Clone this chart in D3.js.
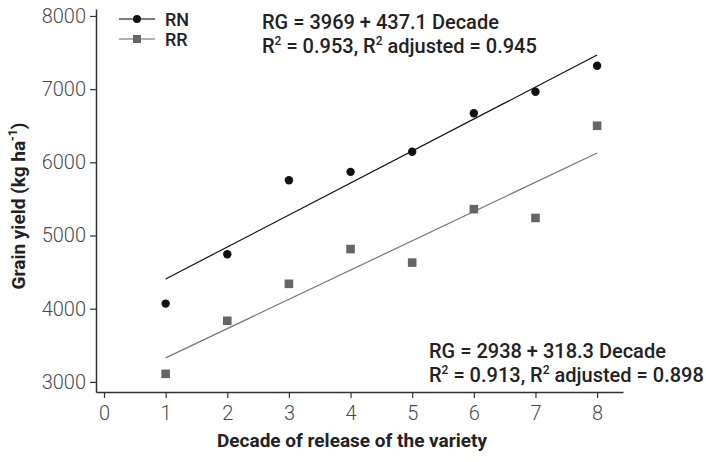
<!DOCTYPE html>
<html><head><meta charset="utf-8">
<script src="https://cdn.jsdelivr.net/npm/d3@7"></script>
<style>body{margin:0;background:#fff}svg{display:block}</style>
</head><body><svg id="c" width="706" height="462"></svg>
<script>
const decades = [1,2,3,4,5,6,7,8];
const rnValues = [4070,4745,5755,5870,6145,6670,6965,7320];
const rrValues = [3110,3835,4340,4815,4630,5360,5240,6500];
const rnFit = [3969, 437.1];
const rrFit = [2928, 400];
const xTicks = [0,1,2,3,4,5,6,7,8];
const yTicks = [3000,4000,5000,6000,7000,8000];
const rnLabel = ["RG = 3969 + 437.1 Decade", "0.953", "0.945"];
const rrLabel = ["RG = 2938 + 318.3 Decade", "0.913", "0.898"];

const svg = d3.select("#c");
const x = d3.scaleLinear().domain([-0.13, 8.42]).range([96, 623]);
const y = d3.scaleLinear().domain([2862, 8095]).range([392, 9]);
const font = "Roboto, 'Noto Sans', sans-serif";

const xa = svg.append("g").attr("transform","translate(0,392)")
  .call(d3.axisBottom(x).tickValues(xTicks).tickFormat(d3.format("d")).tickSize(6).tickPadding(6).tickSizeOuter(0));
const ya = svg.append("g").attr("transform","translate(96,0)")
  .call(d3.axisLeft(y).tickValues(yTicks).tickFormat(d3.format("d")).tickSize(6).tickPadding(4).tickSizeOuter(0));
[xa, ya].forEach(a => {
  a.attr("font-size",null).attr("font-family",null);
  a.select(".domain").attr("stroke","#333").attr("stroke-width",1.5);
  a.selectAll(".tick line").attr("stroke","#333").attr("stroke-width",1.2);
  a.selectAll(".tick text").attr("font-family",font).attr("font-weight",300)
    .style("font-size","20px").attr("fill","#4a4a4a");
});
xa.selectAll(".tick text").attr("dy","0.8em");

svg.append("text").attr("x",352).attr("y",447).attr("text-anchor","middle")
  .attr("font-family",font).attr("font-weight",700).style("font-size","19px").attr("fill","#222")
  .text("Decade of release of the variety");
const yt = svg.append("text").attr("transform","translate(25,206) rotate(-90)")
  .attr("text-anchor","middle").attr("font-family",font).attr("font-weight",700)
  .style("font-size","19px").attr("fill","#222");
yt.append("tspan").text("Grain yield (kg ha");
yt.append("tspan").style("font-size","12px").attr("dy",-8).text("-1");
yt.append("tspan").attr("dy",8).text(")");

// regression lines
const fits = [{fit:rnFit, color:"#111", w:1.2},{fit:rrFit, color:"#777", w:1.2}];
fits.forEach(f => {
  svg.append("line").attr("x1",x(1)).attr("x2",x(8))
    .attr("y1",y(f.fit[0]+f.fit[1]*1)).attr("y2",y(f.fit[0]+f.fit[1]*8))
    .attr("stroke",f.color).attr("stroke-width",f.w);
});

svg.selectAll("circle.rn").data(decades).join("circle").attr("class","rn")
  .attr("cx",d=>x(d)).attr("cy",(d,i)=>y(rnValues[i])).attr("r",4.2).attr("fill","#111");
svg.selectAll("rect.rr").data(decades).join("rect").attr("class","rr")
  .attr("x",d=>x(d)-4.3).attr("y",(d,i)=>y(rrValues[i])-4.3).attr("width",8.6).attr("height",8.6)
  .attr("fill","#666");

// legend
const lg = [{name:"RN", y:19, lc:"#555", shape:"c"},{name:"RR", y:39, lc:"#999", shape:"s"}];
lg.forEach(l => {
  svg.append("line").attr("x1",119).attr("x2",155).attr("y1",l.y).attr("y2",l.y)
    .attr("stroke",l.lc).attr("stroke-width",1.3);
  if (l.shape==="c") svg.append("circle").attr("cx",137).attr("cy",l.y).attr("r",4).attr("fill","#111");
  else svg.append("rect").attr("x",133).attr("y",l.y-4).attr("width",8).attr("height",8).attr("fill","#666");
  svg.append("text").attr("x",165).attr("y",l.y+6.5).attr("font-family",font).attr("font-weight",500)
    .style("font-size","18px").attr("fill","#222").text(l.name);
});

function eqLabel(lbl, x0, y0) {
  const g = svg.append("g").attr("font-family",font).attr("font-weight",500)
    .style("font-size","20px").attr("fill","#222");
  g.append("text").attr("x",x0).attr("y",y0).text(lbl[0]);
  const t = g.append("text").attr("x",x0).attr("y",y0+24);
  t.append("tspan").text("R");
  t.append("tspan").style("font-size","12px").attr("dy",-8).text("2");
  t.append("tspan").attr("dy",8).text(" = " + lbl[1] + ", R");
  t.append("tspan").style("font-size","12px").attr("dy",-8).text("2");
  t.append("tspan").attr("dy",8).text(" adjusted = " + lbl[2]);
}
eqLabel(rnLabel, 262, 29);
eqLabel(rrLabel, 429, 358);
</script></body></html>
